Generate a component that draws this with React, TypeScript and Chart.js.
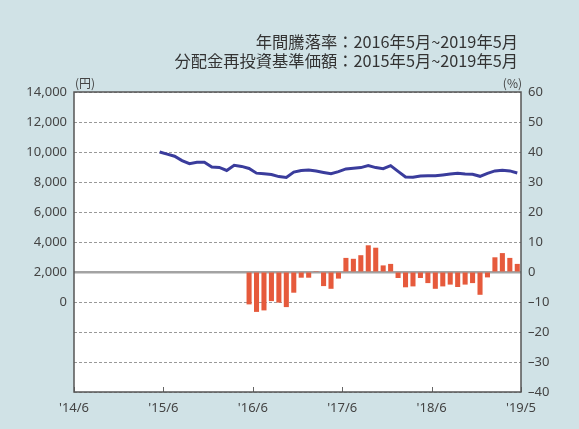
import React, { useEffect, useRef } from "react";
import { Chart, registerables } from "chart.js";

Chart.register(...registerables);

// Month index 0 = 2014/6
const xTickMonths = [0, 12, 24, 36, 48, 60];
const xTickLabels = ["'14/6", "'15/6", "'16/6", "'17/6", "'18/6", "'19/5"];

// 分配金再投資基準価額 (円), monthly from 2015/5 (month index 11)
const navStartIndex = 11;
const navValues = [
  10000, 9860, 9720, 9430, 9220, 9310, 9310, 9000, 8970, 8770, 9110, 9040,
  8900, 8590, 8550, 8500, 8360, 8300, 8660, 8770, 8800, 8730, 8640, 8550,
  8690, 8870, 8910, 8960, 9090, 8960, 8890, 9090, 8710, 8330, 8310, 8400,
  8420, 8420, 8470, 8530, 8580, 8530, 8510, 8380, 8580, 8740, 8780, 8740,
  8600,
];

// 年間騰落率 (%), monthly from 2016/5 (month index 23)
const returnStartIndex = 23;
const returnValues = [
  -10.8, -13.3, -12.8, -9.7, -10.2, -11.7, -6.9, -1.9, -1.9, 0.3, -4.7, -5.6,
  -2.2, 4.7, 4.4, 5.6, 8.9, 8.1, 2.2, 2.7, -2.0, -5.1, -4.8, -2.0, -3.7, -5.6,
  -4.8, -4.2, -5.0, -4.2, -3.7, -7.6, -1.8, 4.9, 6.3, 4.7, 2.7,
];

const titleLines = [
  "年間騰落率：2016年5月~2019年5月",
  "分配金再投資基準価額：2015年5月~2019年5月",
];
const leftUnit = "(円)";
const rightUnit = "(%)";

const BG = "#d0e2e6";

export default function App() {
  const ref = useRef<HTMLCanvasElement | null>(null);

  useEffect(() => {
    document.body.style.margin = "0";
    document.body.style.background = BG;
    const canvas = ref.current!;
    const navData = navValues.map((v, i) => ({ x: navStartIndex + i + 0.5, y: v }));
    const retData = returnValues.map((v, i) => ({ x: returnStartIndex + i + 0.5, y: v }));

    const decor = {
      id: "decor",
      beforeDraw(chart: any) {
        const { ctx, chartArea: a } = chart;
        ctx.save();
        ctx.fillStyle = BG;
        ctx.fillRect(0, 0, chart.width, chart.height);
        ctx.fillStyle = "#ffffff";
        ctx.fillRect(a.left, a.top, a.right - a.left, a.bottom - a.top);
        ctx.restore();
      },
      afterDraw(chart: any) {
        const { ctx, chartArea: a } = chart;
        const xs = chart.scales.x;
        ctx.save();
        // inner tick marks on bottom
        ctx.strokeStyle = "#666";
        ctx.lineWidth = 1;
        xTickMonths.forEach((m) => {
          const px = Math.round(xs.getPixelForValue(m)) + 0.5;
          ctx.beginPath();
          ctx.moveTo(px, a.bottom);
          ctx.lineTo(px, a.bottom - 5);
          ctx.stroke();
        });
        // frame
        ctx.strokeStyle = "#555";
        ctx.lineWidth = 1.5;
        ctx.strokeRect(a.left, a.top, a.right - a.left, a.bottom - a.top);
        // titles
        ctx.fillStyle = "#333";
        ctx.textAlign = "right";
        ctx.textBaseline = "middle";
        ctx.font = "16.3px 'Noto Sans CJK JP', sans-serif";
        ctx.fillText(titleLines[0], a.right - 3, 42);
        ctx.fillText(titleLines[1], a.right - 3, 61);
        // units
        ctx.font = "12px 'Noto Sans CJK JP', sans-serif";
        ctx.fillStyle = "#444";
        ctx.textAlign = "left";
        ctx.fillText(leftUnit, a.left + 1, a.top - 9);
        ctx.textAlign = "right";
        ctx.fillText(rightUnit, a.right + 1, a.top - 9);
        ctx.restore();
      },
    };

    const chart = new Chart(canvas, {
      type: "bar",
      data: {
        datasets: [
          {
            type: "line",
            data: navData as any,
            yAxisID: "y",
            borderColor: "#3a3c9c",
            borderWidth: 3,
            pointRadius: 0,
            tension: 0,
            order: 0,
          } as any,
          {
            type: "bar",
            data: retData as any,
            yAxisID: "y1",
            backgroundColor: "#e65a3c",
            barPercentage: 0.68,
            categoryPercentage: 1,
            order: 1,
          } as any,
        ],
      },
      options: {
        animation: false,
        responsive: false,
        events: [],
        layout: { padding: { top: 92, left: 0, right: 0, bottom: 0 } },
        plugins: {
          legend: { display: false },
          tooltip: { enabled: false },
          title: { display: false },
        },
        scales: {
          x: {
            type: "linear",
            offset: false,
            min: 0,
            max: 60,
            afterBuildTicks: (s: any) => {
              s.ticks = xTickMonths.map((v) => ({ value: v }));
            },
            afterFit: (s: any) => {
              s.height = 37;
            },
            ticks: {
              autoSkip: false,
              maxRotation: 0,
              padding: 8,
              color: "#444",
              font: { size: 13, family: "'Noto Sans', sans-serif" },
              callback: (v: any) => {
                const i = xTickMonths.indexOf(Number(v));
                return i >= 0 ? xTickLabels[i] : "";
              },
            },
            grid: { display: false, drawOnChartArea: false, drawTicks: false },
            border: { display: false },
          },
          y: {
            type: "linear",
            position: "left",
            min: -6000,
            max: 14000,
            afterBuildTicks: (s: any) => {
              const t = [];
              for (let v = -6000; v <= 14000; v += 2000) t.push({ value: v });
              s.ticks = t;
            },
            afterFit: (s: any) => {
              s.width = 74;
            },
            ticks: {
              padding: 7,
              color: "#444",
              font: { size: 13, family: "'Noto Sans', sans-serif" },
              callback: (v: any) => (Number(v) < 0 ? "" : Number(v).toLocaleString("en-US")),
            },
            grid: {
              drawTicks: false,
              color: (c: any) => (c.tick && c.tick.value === 2000 ? "#a3a3a3" : "#999999"),
              lineWidth: (c: any) => (c.tick && c.tick.value === 2000 ? 2.5 : 1),
            },
            border: {
              display: false,
              dash: (c: any) => (c.tick && c.tick.value === 2000 ? [] : [3, 2]),
            },
          },
          y1: {
            type: "linear",
            position: "right",
            min: -40,
            max: 60,
            afterBuildTicks: (s: any) => {
              const t = [];
              for (let v = -40; v <= 60; v += 10) t.push({ value: v });
              s.ticks = t;
            },
            afterFit: (s: any) => {
              s.width = 58;
            },
            ticks: {
              padding: 7,
              color: "#444",
              font: { size: 13, family: "'Noto Sans', sans-serif" },
              callback: (v: any) => (Number(v) < 0 ? "–" + Math.abs(Number(v)) : String(v)),
            },
            grid: { drawOnChartArea: false, drawTicks: false },
            border: { display: false },
          },
        },
      },
      plugins: [decor],
    } as any);

    return () => chart.destroy();
  }, []);

  return (
    <div style={{ width: 579, height: 429, background: BG }}>
      <canvas ref={ref} width={579} height={429} style={{ display: "block" }} />
    </div>
  );
}
